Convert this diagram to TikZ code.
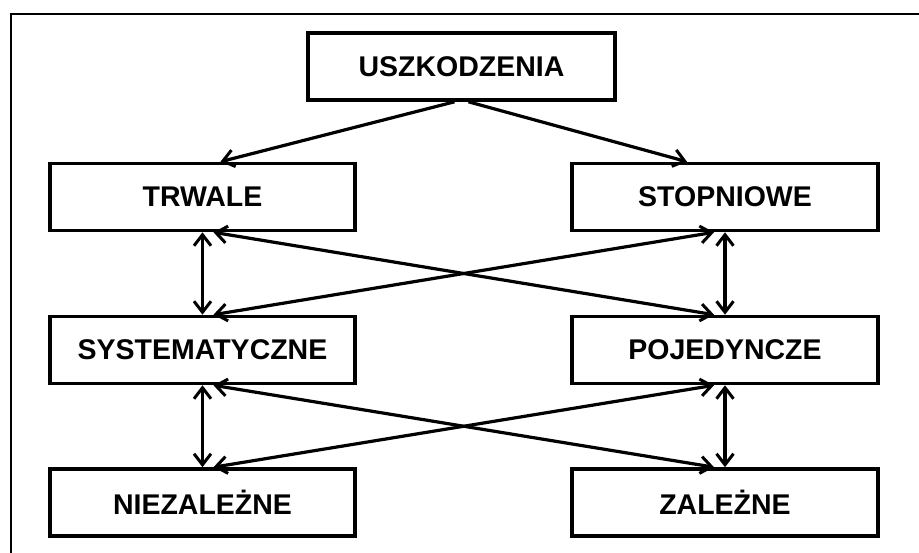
\documentclass[tikz,border=0pt]{standalone}
\usepackage{fontspec}
\setmainfont{Liberation Sans}
\usetikzlibrary{arrows.meta,calc}
\tikzset{
  box/.style={draw, line width=3.6pt, minimum height=67pt, inner sep=0pt,
    font=\fontsize{28.5}{30}\selectfont\bfseries},
  lbox/.style={box, minimum width=305pt},
  rbox/.style={box, minimum width=306pt},
  tip/.style={Straight Barb[length=11pt,width=17pt,line width=3pt]},
  conn/.style={line width=3.2pt, -{Straight Barb[length=11pt,width=17pt,line width=3pt]}},
  dconn/.style={line width=3.2pt, {Straight Barb[length=11pt,width=17pt,line width=3pt]}-{Straight Barb[length=11pt,width=17pt,line width=3pt]}},
  frame/.style={line width=2.4pt}
}
\begin{document}
\begin{tikzpicture}[x=1pt,y=-1pt]
\useasboundingbox (0,0) rectangle (919,553);
\coordinate (fl) at (11,553);
\coordinate (fc) at (11,14);
\coordinate (fr) at (919,14);
\draw[frame] (fl) -- (fc) -- (fr);
\node[box, minimum width=307pt] (U) at (461.5,66.5) {USZKODZENIA};
\node[lbox] (T) at (202.5,197) {TRWALE};
\node[rbox] (S) at (725,197) {STOPNIOWE};
\node[lbox] (SY) at (202.5,350) {SYSTEMATYCZNE};
\node[rbox] (P) at (725,350) {POJEDYNCZE};
\node[lbox] (N) at (202.5,502.5) {NIEZALEŻNE};
\node[rbox] (Z) at (725,502.5) {ZALEŻNE};
\draw[conn] ($(U.south)+(-7,0)$) -- ($(T.north)+(18,0)$);
\draw[conn] ($(U.south)+(7,0)$) -- ($(S.north)+(-38,0)$);
\draw[dconn] (T.south) -- (SY.north);
\draw[dconn] (S.south) -- (P.north);
\draw[dconn] ($(T.south)+(11,0)$) -- ($(P.north)+(-11,0)$);
\draw[dconn] ($(SY.north)+(11,0)$) -- ($(S.south)+(-11,0)$);
\draw[dconn] (SY.south) -- (N.north);
\draw[dconn] (P.south) -- (Z.north);
\draw[dconn] ($(SY.south)+(11,0)$) -- ($(Z.north)+(-11,0)$);
\draw[dconn] ($(N.north)+(11,0)$) -- ($(P.south)+(-11,0)$);
\end{tikzpicture}
\end{document}
